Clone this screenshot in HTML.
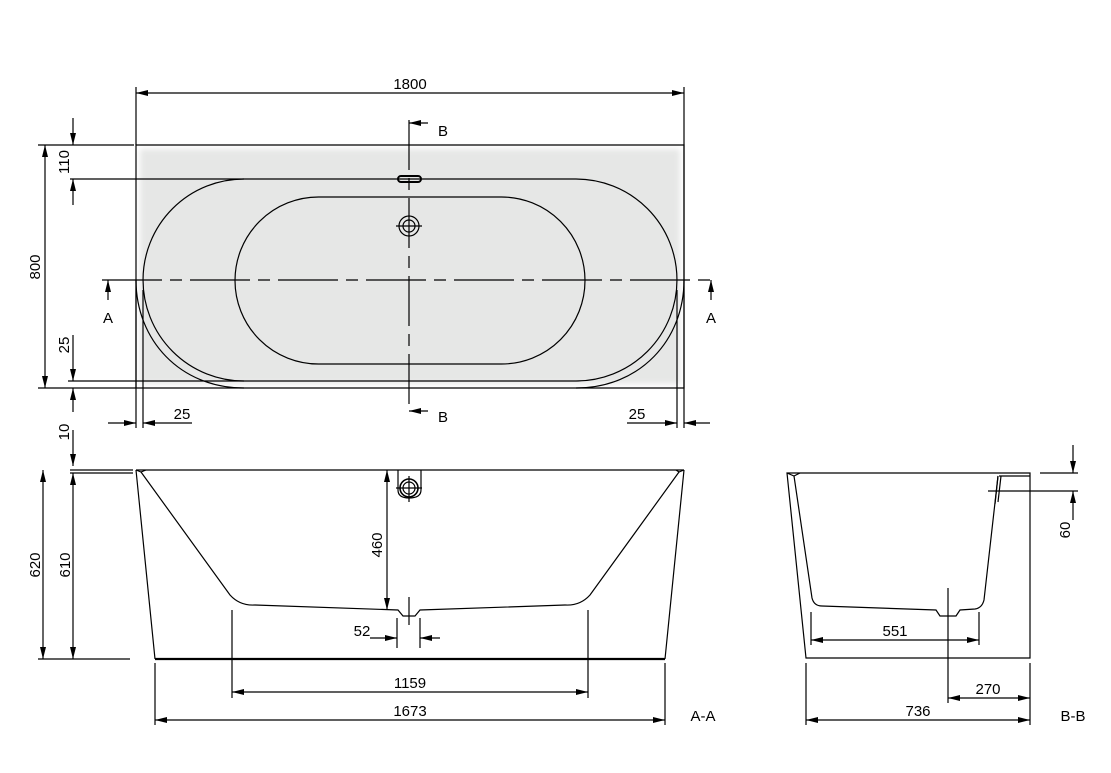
<!DOCTYPE html>
<html><head><meta charset="utf-8"><style>
html,body{margin:0;padding:0;background:#fff;}
svg{display:block;}
text{font-family:"Liberation Sans",sans-serif;font-size:15px;fill:#000;}
</style></head><body>
<svg width="1111" height="773" viewBox="0 0 1111 773" xmlns="http://www.w3.org/2000/svg">
<defs>
<marker id="a" viewBox="0 0 12 6" refX="12" refY="3" markerWidth="12" markerHeight="6" markerUnits="userSpaceOnUse" orient="auto"><path d="M0,0 L12,3 L0,6 z" fill="#000"/></marker>
<filter id="g" x="-5%" y="-10%" width="110%" height="120%"><feGaussianBlur stdDeviation="3"/></filter>
</defs>
<g stroke="#000" stroke-width="1.2" fill="none">
<!-- TOP VIEW -->
<rect x="136" y="145" width="548" height="243" fill="#fff" stroke="none"/>
<rect x="140" y="149" width="540" height="235" fill="#e6e7e6" stroke="none" filter="url(#g)"/>
<path d="M136,145 H684 V388 H136 Z"/>
<path d="M244,179 H576 A101,101 0 0 1 576,381 H244 A101,101 0 0 1 244,179 Z"/>
<path d="M136,280 C136,340 180,388 244,388 M684,280 C684,340 640,388 576,388"/>
<path d="M318.5,197 H501.5 A83.5,83.5 0 0 1 501.5,364 H318.5 A83.5,83.5 0 0 1 318.5,197 Z"/>
<path d="M102,280 H718" stroke-dasharray="60,8,12,8"/>
<path d="M409,120 V412" stroke-dasharray="50,8,12,8"/>
<rect x="398" y="176" width="23" height="6" rx="3" stroke-width="2"/>
<circle cx="409" cy="226" r="10"/><circle cx="409" cy="226" r="6"/>
<path d="M396,226 H422"/>
<!-- 1800 -->
<path d="M136,87 V145 M684,87 V428"/>
<path d="M410,93 H136" marker-end="url(#a)"/><path d="M410,93 H684" marker-end="url(#a)"/>
<!-- 800 -->
<path d="M38,145 H134 M38,388 H136"/>
<path d="M45,267 V145" marker-end="url(#a)"/><path d="M45,267 V388" marker-end="url(#a)"/>
<!-- 110 -->
<path d="M70,179 H244"/>
<path d="M73,118 V145" marker-end="url(#a)"/><path d="M73,205 V179" marker-end="url(#a)"/>
<!-- 25 vert -->
<path d="M68,381 H244"/>
<path d="M73,335 V381" marker-end="url(#a)"/><path d="M73,412 V388" marker-end="url(#a)"/>
<!-- 10 -->
<path d="M73,430 V466" marker-end="url(#a)"/>
<!-- 25 horiz -->
<path d="M136,280 V428 M143,290 V428 M677,290 V428"/>
<path d="M108,423 H136" marker-end="url(#a)"/><path d="M192,423 H143" marker-end="url(#a)"/>
<path d="M627,423 H677" marker-end="url(#a)"/><path d="M710,423 H684" marker-end="url(#a)"/>
<!-- A markers -->
<path d="M108,300 V280" marker-end="url(#a)"/><path d="M711,300 V280" marker-end="url(#a)"/>
<!-- B markers -->
<path d="M428,123 H409" marker-end="url(#a)"/><path d="M428,411 H409" marker-end="url(#a)"/>
<!-- SIDE VIEW A-A -->
<path d="M70,470 H133 M70,473 H133"/>
<path d="M136,470 H684"/>
<path d="M136,470 L155,659 M684,470 L665,659"/>
<path d="M155,659 H665" stroke-width="2.2"/>
<path d="M38,659 H130"/>
<path d="M136,470 L141,472 L146,470 M684,470 L679,472 L676,470"/>
<path d="M141,472 L230,595 Q240,606 255,605 L398,610 L403,616 H415 L420,610 L565,605 Q580,606 590,595 L679,472"/>
<path d="M398,470 V490 Q398,498 409,498 Q421,498 421,490 V470"/>
<circle cx="409" cy="488" r="9" stroke-width="1.6"/><circle cx="409" cy="488" r="6"/>
<path d="M396,488 H422 M409,476 V502"/>
<!-- 620 / 610 -->
<path d="M43,565 V470" marker-end="url(#a)"/><path d="M43,565 V659" marker-end="url(#a)"/>
<path d="M73,565 V473" marker-end="url(#a)"/><path d="M73,565 V659" marker-end="url(#a)"/>
<!-- 460 -->
<path d="M387,540 V470" marker-end="url(#a)"/><path d="M387,540 V610" marker-end="url(#a)"/>
<path d="M409,597 V625"/>
<!-- 52 -->
<path d="M397,618 V648 M420,618 V648"/>
<path d="M370,638 H397" marker-end="url(#a)"/><path d="M440,638 H420" marker-end="url(#a)"/>
<!-- 1159 -->
<path d="M232,610 V698 M588,610 V698"/>
<path d="M410,692 H232" marker-end="url(#a)"/><path d="M410,692 H588" marker-end="url(#a)"/>
<!-- 1673 -->
<path d="M155,663 V725 M665,663 V725"/>
<path d="M410,720 H155" marker-end="url(#a)"/><path d="M410,720 H665" marker-end="url(#a)"/>
<!-- SECTION B-B -->
<path d="M787,473 H1030 V658 H806 L787,473 Z"/>
<path d="M787,473 L794,476 L800,473"/>
<path d="M794,476 L812,598 Q814,606 822,606 L936,610 L940,616 H956 L960,610 L975,609 Q982,608 984,600 L998,476"/>
<path d="M999,476 H1030 M998,476 L995,504 M1001,476 L998,502"/>
<!-- 60 -->
<path d="M1040,473 H1078 M988,491 H1078"/>
<path d="M1073,445 V473" marker-end="url(#a)"/><path d="M1073,520 V491" marker-end="url(#a)"/>
<!-- 551 -->
<path d="M811,612 V645 M979,612 V645"/>
<path d="M895,640 H811" marker-end="url(#a)"/><path d="M895,640 H979" marker-end="url(#a)"/>
<!-- 270 -->
<path d="M948,588 V703"/>
<path d="M990,698 H948" marker-end="url(#a)"/><path d="M990,698 H1030" marker-end="url(#a)"/>
<!-- 736 -->
<path d="M806,663 V725 M1030,663 V725"/>
<path d="M918,720 H806" marker-end="url(#a)"/><path d="M918,720 H1030" marker-end="url(#a)"/>
</g>
<g text-anchor="middle">
<text x="410" y="89">1800</text>
<text transform="translate(40,267) rotate(-90)">800</text>
<text transform="translate(69,162) rotate(-90)">110</text>
<text transform="translate(69,345) rotate(-90)">25</text>
<text transform="translate(69,432) rotate(-90)">10</text>
<text x="182" y="419">25</text>
<text x="637" y="419">25</text>
<text x="108" y="323" font-size="17">A</text>
<text x="711" y="323" font-size="17">A</text>
<text x="443" y="136" font-size="17">B</text>
<text x="443" y="422" font-size="17">B</text>
<text transform="translate(40,565) rotate(-90)">620</text>
<text transform="translate(70,565) rotate(-90)">610</text>
<text transform="translate(382,545) rotate(-90)">460</text>
<text x="362" y="636">52</text>
<text x="410" y="688">1159</text>
<text x="410" y="716">1673</text>
<text x="703" y="721" font-size="17">A-A</text>
<text transform="translate(1070,530) rotate(-90)">60</text>
<text x="895" y="636">551</text>
<text x="988" y="694">270</text>
<text x="918" y="716">736</text>
<text x="1073" y="721" font-size="17">B-B</text>
</g>
</svg>
</body></html>
